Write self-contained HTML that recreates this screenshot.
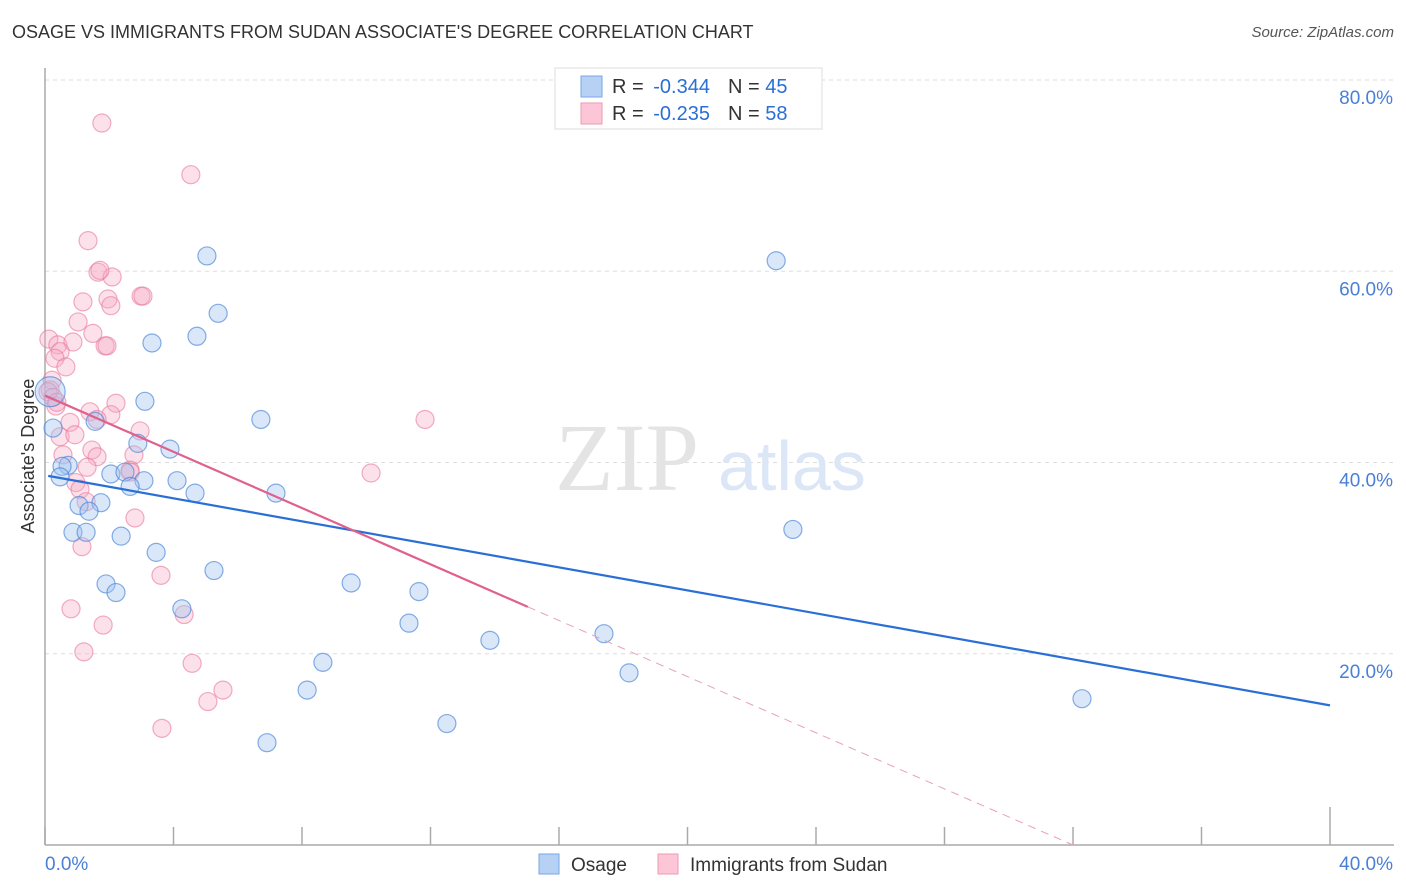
<!DOCTYPE html>
<html><head><meta charset="utf-8">
<style>
body{margin:0;background:#fff;font-family:"Liberation Sans",sans-serif;}
#wrap{position:relative;width:1406px;height:892px;overflow:hidden;}
.t{position:absolute;white-space:nowrap;}
</style></head>
<body>
<div id="wrap">
<div class="t" style="left:12px;top:22px;font-size:18px;color:#333;">OSAGE VS IMMIGRANTS FROM SUDAN ASSOCIATE'S DEGREE CORRELATION CHART</div>
<div class="t" style="right:12px;top:24px;font-size:15px;color:#555;font-style:italic;">Source: ZipAtlas.com</div>
<svg id="svg" width="1406" height="892" style="position:absolute;left:0;top:0"></svg>
</div>
<script>
const xTicksLabels=["0.0%","40.0%"];
const yTickValues=[20,40,60,80];
const blueX=[5.04,5.39,4.73,3.33,3.11,6.72,1.56,2.89,3.89,0.25,0.72,0.53,2.05,2.49,4.11,3.08,2.65,0.47,4.67,7.19,1.74,1.06,1.37,0.87,1.28,2.37,3.46,1.90,2.21,5.26,4.26,9.53,11.64,11.33,13.85,17.40,8.65,8.16,12.51,6.91,18.18,22.76,23.28,32.28,0.16];
const blueY=[61.6,55.6,53.2,52.5,46.4,44.5,44.3,42.0,41.4,43.6,39.7,39.6,38.8,39.0,38.1,38.1,37.5,38.5,36.8,36.8,35.8,35.5,34.9,32.7,32.7,32.3,30.6,27.3,26.4,28.7,24.7,27.4,26.5,23.2,21.4,22.1,19.1,16.2,12.7,10.7,18.0,61.1,33.0,15.3,47.4];
const pinkX=[1.77,4.54,1.34,1.65,2.09,1.71,1.18,1.96,2.05,2.99,3.05,1.03,1.49,0.12,0.40,0.87,1.87,1.93,0.47,0.31,0.65,0.22,0.16,0.09,0.25,0.34,1.40,2.21,2.05,1.62,0.78,0.47,0.93,2.96,1.46,1.62,2.77,0.56,2.65,1.31,0.96,1.09,1.28,2.80,1.15,3.61,0.81,4.33,1.81,1.21,4.58,5.54,5.07,3.64,11.83,10.15,0.37,2.65];
const pinkY=[75.5,70.1,63.2,59.9,59.4,60.1,56.8,57.1,56.4,57.4,57.4,54.7,53.5,52.9,52.3,52.6,52.2,52.2,51.6,50.9,50.0,48.6,47.6,47.4,46.8,45.9,45.3,46.2,45.0,44.5,44.2,42.7,42.9,43.3,41.3,40.6,40.8,40.8,39.2,39.5,37.9,37.2,35.9,34.2,31.2,28.2,24.7,24.1,23.0,20.2,19.0,16.2,15.0,12.2,44.5,38.9,46.3,39.0];
const blueTrend=[[0.1,38.6],[40,14.6]];
const pinkTrend=[[0,47.0],[15.03,24.9]];
const pinkDash=[[15.03,24.9],[32.0,0]];

const X=v=>45+v*32.125, Y=v=>845-v*9.5625;
const svg=document.getElementById('svg');
const NS='http://www.w3.org/2000/svg';
function mk(tag,attrs,parent){const e=document.createElementNS(NS,tag);for(const k in attrs)e.setAttribute(k,attrs[k]);(parent||svg).appendChild(e);return e;}
// gridlines
yTickValues.forEach(v=>{
 const g=mk('line',{x1:45,x2:1394,y1:Y(v),y2:Y(v),stroke:'#ddd','stroke-dasharray':'4,4'});
 
 
 const t=mk('text',{x:1393,y:Y(v)+24,'text-anchor':'end','font-size':19,fill:'#4a7fd6','font-family':'Liberation Sans'});
 t.textContent=v.toFixed(1)+'%';
 
 
});
// axes
const ya=mk('line',{x1:45,x2:45,y1:68,y2:845,stroke:'#aaa','stroke-width':1.5});


const xa=mk('line',{x1:45,x2:1394,y1:845,y2:845,stroke:'#aaa','stroke-width':1.5});


for(let i=0;i<=10;i++){
 const tk=mk('line',{x1:X(i*4),x2:X(i*4),y1:i==10?807:827,y2:845,stroke:'#aaa','stroke-width':1.5});
 
 
}
[[0,45,'start'],[1,1393,'end']].forEach(([i,x,a])=>{
 const t=mk('text',{x:x,y:870,'text-anchor':a,'font-size':19,fill:'#4a7fd6','font-family':'Liberation Sans'});
 t.textContent=xTicksLabels[i];
 
 
});
const yt=mk('text',{x:0,y:0,transform:'translate(34,456) rotate(-90)','text-anchor':'middle','font-size':18,fill:'#333','font-family':'Liberation Sans'});
yt.textContent="Associate's Degree";


// watermark
const wm=mk('text',{x:555,y:490,'font-size':96,fill:'#e4e4e4','font-family':'Liberation Serif'});
wm.textContent='ZIP';


const wm2=mk('text',{x:718,y:490,'font-size':70,fill:'#dbe6f6','font-family':'Liberation Sans'});
wm2.textContent='atlas';


// points
pinkX.forEach((v,i)=>{
 const c=mk('circle',{cx:X(v),cy:Y(pinkY[i]),r:9,fill:'rgba(246,170,195,0.35)',stroke:'rgba(232,120,155,0.6)','stroke-width':1.2});
 
 
});
blueX.forEach((v,i)=>{
 const big=i==blueX.length-1;
 const c=mk('circle',{cx:X(v),cy:Y(blueY[i]),r:big?15:9,fill:'rgba(160,195,240,0.4)',stroke:'rgba(70,130,215,0.65)','stroke-width':1.2});
 
 
});
// trend lines
const bl=mk('line',{x1:X(blueTrend[0][0]),y1:Y(blueTrend[0][1]),x2:X(blueTrend[1][0]),y2:Y(blueTrend[1][1]),stroke:'#2a6fd6','stroke-width':2.2});


const pl=mk('line',{x1:X(pinkTrend[0][0]),y1:Y(pinkTrend[0][1]),x2:X(pinkTrend[1][0]),y2:Y(pinkTrend[1][1]),stroke:'#e0608e','stroke-width':2.2});


const pd=mk('line',{x1:X(pinkDash[0][0]),y1:Y(pinkDash[0][1]),x2:X(pinkDash[1][0]),y2:Y(pinkDash[1][1]),stroke:'#e8a0b8','stroke-width':1,'stroke-dasharray':'8,6'});


// legend box
const lb=mk('rect',{x:555,y:68,width:267,height:61,fill:'#fff',stroke:'#ddd'});


[[0,'-0.344','45','#b7d1f5','#7aa6e6'],[1,'-0.235','58','#fcc6d6','#ef9ab5']].forEach(([i,r,n,f,s])=>{
 const y=86+i*27;
 const sw=mk('rect',{x:581,y:y-10,width:21,height:21,fill:f,stroke:s});
 
 
 const t=mk('text',{x:612,y:y+7,'font-size':20,fill:'#333','font-family':'Liberation Sans'});
 t.innerHTML='R = <tspan fill="#2a6fd6" dx="4">'+r+'</tspan><tspan dx="18">N = </tspan><tspan fill="#2a6fd6">'+n+'</tspan>';
 
 
});
// bottom legend
[[539,'Osage','#b7d1f5','#7aa6e6'],[658,'Immigrants from Sudan','#fcc6d6','#ef9ab5']].forEach(([x,l,f,s])=>{
 const sw=mk('rect',{x:x,y:854,width:20,height:20,fill:f,stroke:s});
 
 
 const t=mk('text',{x:x+32,y:871,'font-size':19,fill:'#333','font-family':'Liberation Sans'});
 t.textContent=l;
 
 
});
</script>
</body></html>
